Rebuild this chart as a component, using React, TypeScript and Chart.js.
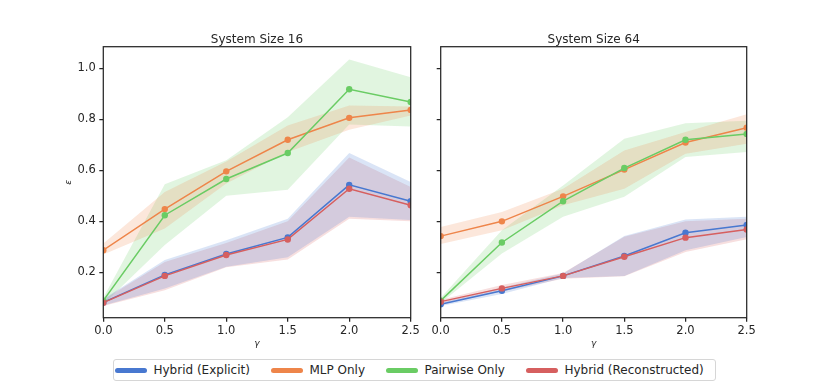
import React, { useEffect, useRef } from "react";
import { Chart, registerables } from "chart.js";

Chart.register(...registerables);

const gammas = [0, 0.5, 1.0, 1.5, 2.0, 2.5];
const xTicks = [0, 0.5, 1.0, 1.5, 2.0, 2.5];
const yTicks = [0.2, 0.4, 0.6, 0.8, 1.0];

const seriesNames = ["Hybrid (Explicit)", "MLP Only", "Pairwise Only", "Hybrid (Reconstructed)"];
const seriesColors = ["#4878d0", "#ee854a", "#6acc64", "#d65f5f"];
const bandColors = ["rgba(72,120,208,0.2)", "rgba(238,133,74,0.2)", "rgba(106,204,100,0.2)", "rgba(214,95,95,0.2)"];

// System Size 16
const explicit16 = [0.082, 0.19, 0.272, 0.337, 0.543, 0.479];
const explicit16Lo = [0.07, 0.137, 0.222, 0.259, 0.418, 0.405];
const explicit16Hi = [0.095, 0.248, 0.326, 0.41, 0.668, 0.554];
const mlp16 = [0.287, 0.448, 0.596, 0.72, 0.806, 0.837];
const mlp16Lo = [0.27, 0.372, 0.548, 0.672, 0.759, 0.815];
const mlp16Hi = [0.313, 0.515, 0.635, 0.776, 0.854, 0.85];
const pairwise16 = [0.089, 0.424, 0.566, 0.668, 0.918, 0.868];
const pairwise16Lo = [0.075, 0.307, 0.5, 0.524, 0.78, 0.772];
const pairwise16Hi = [0.1, 0.545, 0.64, 0.808, 1.035, 0.965];
const recon16 = [0.081, 0.186, 0.268, 0.329, 0.528, 0.463];
const recon16Lo = [0.068, 0.13, 0.22, 0.25, 0.41, 0.4];
const recon16Hi = [0.092, 0.24, 0.315, 0.4, 0.65, 0.535];

// System Size 64
const explicit64 = [0.075, 0.128, 0.186, 0.264, 0.355, 0.386];
const explicit64Lo = [0.068, 0.115, 0.178, 0.186, 0.287, 0.339];
const explicit64Hi = [0.082, 0.14, 0.195, 0.342, 0.407, 0.418];
const mlp64 = [0.342, 0.4, 0.498, 0.603, 0.709, 0.767];
const mlp64Lo = [0.311, 0.365, 0.463, 0.528, 0.665, 0.704];
const mlp64Hi = [0.378, 0.437, 0.528, 0.678, 0.75, 0.82];
const pairwise64 = [0.089, 0.317, 0.479, 0.609, 0.72, 0.743];
const pairwise64Lo = [0.08, 0.274, 0.418, 0.496, 0.652, 0.672];
const pairwise64Hi = [0.1, 0.365, 0.541, 0.724, 0.785, 0.795];
const recon64 = [0.085, 0.137, 0.186, 0.261, 0.336, 0.368];
const recon64Lo = [0.078, 0.125, 0.175, 0.185, 0.28, 0.33];
const recon64Hi = [0.092, 0.15, 0.197, 0.34, 0.4, 0.41];

const INK = "#262626";
const FONT = "'DejaVu Sans', sans-serif";

const framePlugin = {
  id: "frame",
  afterDatasetsDraw(chart: any) {
    const { ctx, chartArea } = chart;
    const { left, top, right, bottom } = chartArea;
    ctx.save();
    ctx.strokeStyle = INK;
    ctx.lineWidth = 1.25;
    ctx.strokeRect(left, top, right - left, bottom - top);
    ctx.restore();
  },
};

// Panel title centred over the plot area (like matplotlib's axes title)
const axesTitlePlugin = {
  id: "axesTitle",
  afterDraw(chart: any, _args: any, opts: any) {
    const { ctx, chartArea } = chart;
    ctx.save();
    ctx.fillStyle = INK;
    ctx.font = "12px " + FONT;
    ctx.textAlign = "center";
    ctx.textBaseline = "alphabetic";
    ctx.fillText(opts.text, (chartArea.left + chartArea.right) / 2, chartArea.top - 3.4);
    ctx.restore();
  },
};

function pts(vals: number[]) {
  return gammas.map((g, i) => ({ x: g, y: vals[i] }));
}

function buildDatasets(series: { mean: number[]; lo: number[]; hi: number[] }[]) {
  const ds: any[] = [];
  const lineOrder = [3, 2, 1, 0];
  series.forEach((s, i) => {
    ds.push({
      label: seriesNames[i] + " hi",
      data: pts(s.hi),
      borderWidth: 0,
      pointRadius: 0,
      backgroundColor: bandColors[i],
      fill: "+1",
      order: 10 + i,
    });
    ds.push({
      label: seriesNames[i] + " lo",
      data: pts(s.lo),
      borderWidth: 0,
      pointRadius: 0,
      backgroundColor: bandColors[i],
      fill: false,
      order: 10 + i,
    });
  });
  series.forEach((s, i) => {
    ds.push({
      label: seriesNames[i],
      data: pts(s.mean),
      borderColor: seriesColors[i],
      backgroundColor: seriesColors[i],
      borderWidth: 1.5,
      pointRadius: 3.2,
      pointBorderWidth: 0,
      pointBackgroundColor: seriesColors[i],
      fill: false,
      order: lineOrder[i],
    });
  });
  return ds;
}

type PanelProps = {
  title: string;
  series: { mean: number[]; lo: number[]; hi: number[] }[];
  left: number;
  width: number;
  yAxisWidth: number;
  padRight: number;
  showYLabels: boolean;
};

function Panel({ title, series, left, width, yAxisWidth, padRight, showYLabels }: PanelProps) {
  const ref = useRef<HTMLCanvasElement | null>(null);
  const height = 355;
  useEffect(() => {
    if (!ref.current) return;
    const chart = new Chart(ref.current, {
      type: "line",
      data: { datasets: buildDatasets(series) },
      plugins: [framePlugin, axesTitlePlugin],
      options: {
        animation: false,
        responsive: false,
        devicePixelRatio: 1,
        layout: { padding: { top: 46.7, right: padRight, bottom: 3.3, left: 0 } },
        plugins: {
          legend: { display: false },
          tooltip: { enabled: false },
          title: { display: false },
          axesTitle: { text: title },
        },
        scales: {
          x: {
            type: "linear",
            min: 0,
            max: 2.5,
            afterBuildTicks: (s: any) => {
              s.ticks = xTicks.map((v) => ({ value: v }));
            },
            afterFit: (s: any) => {
              s.height = 34;
            },
            border: { display: false },
            grid: {
              drawOnChartArea: false,
              drawTicks: true,
              tickLength: 4,
              color: INK,
              lineWidth: 1.25,
            },
            ticks: {
              color: INK,
              padding: 2,
              maxRotation: 0,
              font: { family: FONT, size: 11.5 },
              callback: (v: any) => Number(v).toFixed(1),
            },
            title: {
              display: true,
              text: "γ",
              color: INK,
              font: { family: FONT, size: 9, style: "italic" },
              padding: { top: 0, bottom: 2.3 },
            },
          },
          y: {
            type: "linear",
            min: 0.022,
            max: 1.085,
            afterBuildTicks: (s: any) => {
              s.ticks = yTicks.map((v) => ({ value: v }));
            },
            afterFit: (s: any) => {
              s.width = yAxisWidth;
            },
            border: { display: false },
            grid: {
              drawOnChartArea: false,
              drawTicks: true,
              tickLength: 4,
              color: INK,
              lineWidth: 1.25,
            },
            ticks: {
              color: INK,
              padding: 3.5,
              font: { family: FONT, size: 11.5 },
              callback: (v: any) => (showYLabels ? Number(v).toFixed(1) : ""),
            },
            title: {
              display: showYLabels,
              text: "ε",
              color: INK,
              font: { family: FONT, size: 9, style: "italic" },
              padding: { top: 63.6, bottom: 0 },
            },
          },
        },
      } as any,
    });
    return () => chart.destroy();
  }, []);
  return (
    <canvas
      ref={ref}
      width={width}
      height={height}
      style={{ position: "absolute", left, top: 0, width, height }}
    />
  );
}

function Legend() {
  return (
    <div
      style={{
        position: "absolute",
        left: 112.7,
        top: 359.3,
        width: 603.3,
        height: 22,
        boxSizing: "border-box",
        border: "1px solid #d6d6d6",
        borderRadius: 3,
        background: "#fff",
        display: "flex",
        alignItems: "center",
        paddingLeft: 1.3,
        gap: 21,
        fontFamily: FONT,
        fontSize: 12,
        color: INK,
        whiteSpace: "nowrap",
      }}
    >
      {seriesNames.map((n, i) => (
        <div key={n} style={{ display: "flex", alignItems: "center" }}>
          <span
            style={{
              display: "inline-block",
              width: 32,
              height: 5.5,
              borderRadius: 3,
              background: seriesColors[i],
              marginRight: 6.5,
            }}
          />
          <span>{n}</span>
        </div>
      ))}
    </div>
  );
}

export default function App() {
  const left = [
    { mean: explicit16, lo: explicit16Lo, hi: explicit16Hi },
    { mean: mlp16, lo: mlp16Lo, hi: mlp16Hi },
    { mean: pairwise16, lo: pairwise16Lo, hi: pairwise16Hi },
    { mean: recon16, lo: recon16Lo, hi: recon16Hi },
  ];
  const right = [
    { mean: explicit64, lo: explicit64Lo, hi: explicit64Hi },
    { mean: mlp64, lo: mlp64Lo, hi: mlp64Hi },
    { mean: pairwise64, lo: pairwise64Lo, hi: pairwise64Hi },
    { mean: recon64, lo: recon64Lo, hi: recon64Hi },
  ];
  return (
    <div style={{ position: "absolute", left: 0, top: 0, width: 830, height: 388, background: "#fff" }}>
      <Panel title="System Size 16" series={left} left={0} width={425} yAxisWidth={103.3} padRight={14.3} showYLabels={true} />
      <Panel title="System Size 64" series={right} left={425} width={405} yAxisWidth={15.7} padRight={83.3} showYLabels={false} />
      <Legend />
    </div>
  );
}
